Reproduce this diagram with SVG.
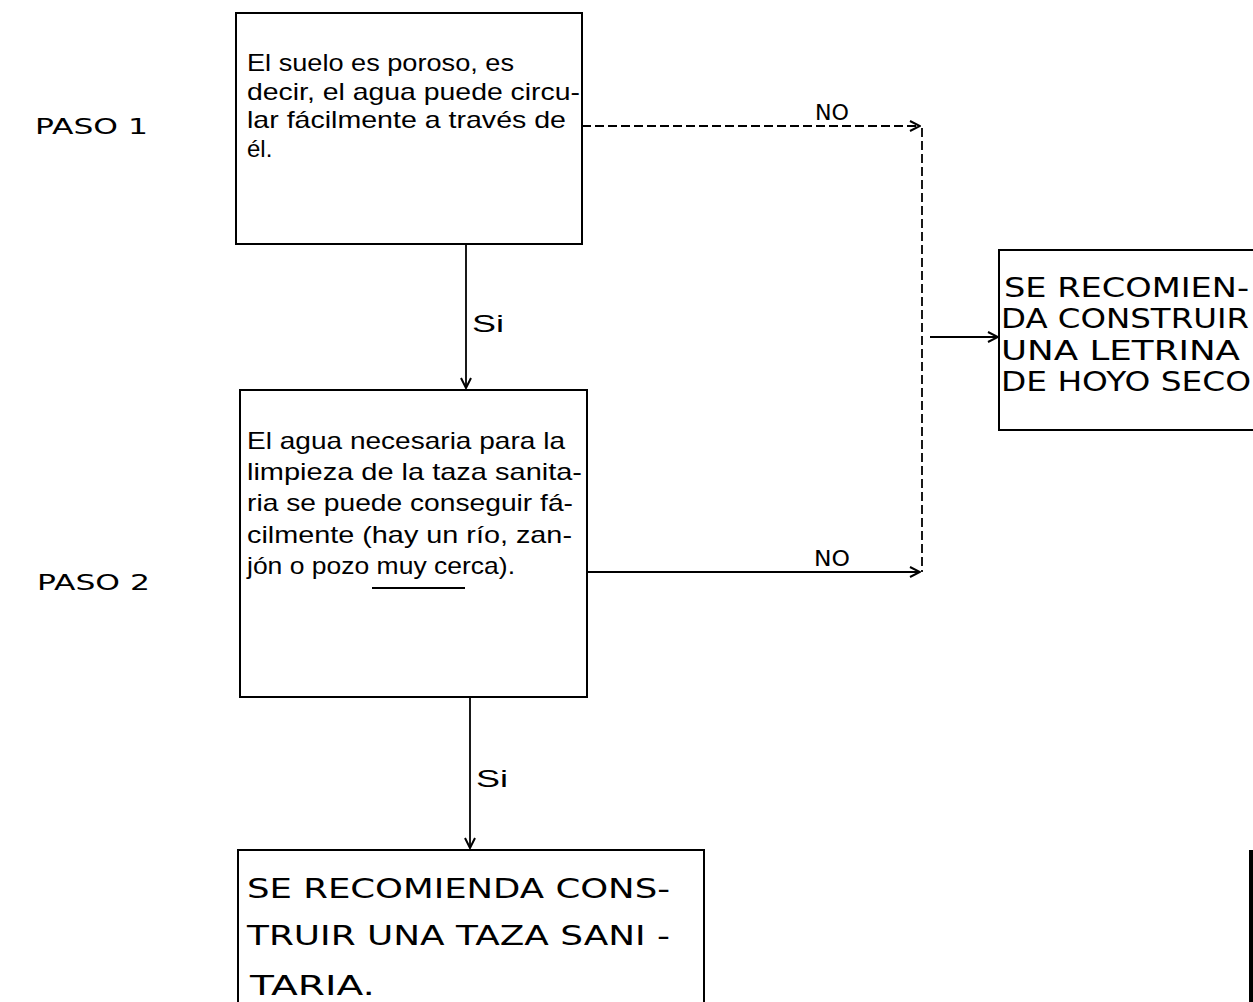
<svg xmlns="http://www.w3.org/2000/svg" width="1253" height="1002" viewBox="0 0 1253 1002">
<style>
.box{fill:none;stroke:#000;stroke-width:2}
.t{font-family:"Liberation Sans","DejaVu Sans",sans-serif;font-size:24px;fill:#000}
.u{font-family:"DejaVu Sans","Liberation Sans",sans-serif;font-size:26px}
.p{font-family:"DejaVu Sans","Liberation Sans",sans-serif;font-size:22px}
.c{fill:none;stroke:#000;stroke-width:1.8}
.d{stroke-dasharray:9 4}
</style>
<defs>
<marker id="ah" viewBox="0 0 12 12" refX="11" refY="6" markerWidth="12" markerHeight="12" markerUnits="userSpaceOnUse" orient="auto">
<polyline points="1,1 11,6 1,11" fill="none" stroke="#000" stroke-width="2"/>
</marker>
</defs>
<rect width="1253" height="1002" fill="#fff"/>
<text class="t p" x="35" y="134" textLength="113" lengthAdjust="spacingAndGlyphs">PASO 1</text>
<text class="t p" x="37" y="590" textLength="113" lengthAdjust="spacingAndGlyphs">PASO 2</text>
<g id="n1">
<rect class="box" x="236" y="13" width="346" height="231"/>
<text class="t" x="247" y="71" textLength="267" lengthAdjust="spacingAndGlyphs">El suelo es poroso, es</text>
<text class="t" x="247" y="100" textLength="333" lengthAdjust="spacingAndGlyphs">decir, el agua puede circu-</text>
<text class="t" x="247" y="128" textLength="319" lengthAdjust="spacingAndGlyphs">lar fácilmente a través de</text>
<text class="t" x="247" y="157">él.</text>
</g>
<g id="n2">
<rect class="box" x="240" y="390" width="347" height="307"/>
<text class="t" x="247" y="449" textLength="318" lengthAdjust="spacingAndGlyphs">El agua necesaria para la</text>
<text class="t" x="247" y="480" textLength="335" lengthAdjust="spacingAndGlyphs">limpieza de la taza sanita-</text>
<text class="t" x="247" y="511" textLength="326" lengthAdjust="spacingAndGlyphs">ria se puede conseguir fá-</text>
<text class="t" x="247" y="543" textLength="325" lengthAdjust="spacingAndGlyphs">cilmente (hay un río, zan-</text>
<text class="t" x="247" y="574" textLength="268" lengthAdjust="spacingAndGlyphs">jón o pozo muy cerca).</text>
<line class="c" x1="372" y1="588" x2="465" y2="588" stroke-width="1.5"/>
</g>
<g id="n3">
<path class="box" d="M238,1010 V850 H704 V1010"/>
<text class="t u" x="247" y="898" textLength="423" lengthAdjust="spacingAndGlyphs">SE RECOMIENDA CONS-</text>
<text class="t u" x="247" y="945" textLength="423" lengthAdjust="spacingAndGlyphs">TRUIR UNA TAZA SANI -</text>
<text class="t u" x="250" y="995" textLength="125" lengthAdjust="spacingAndGlyphs">TARIA.</text>
</g>
<g id="n4">
<rect class="box" x="999" y="250" width="270" height="180"/>
<text class="t u" x="1004" y="297" textLength="245" lengthAdjust="spacingAndGlyphs">SE RECOMIEN-</text>
<text class="t u" x="1001" y="328" textLength="248" lengthAdjust="spacingAndGlyphs">DA CONSTRUIR</text>
<text class="t u" x="1001" y="360" textLength="239" lengthAdjust="spacingAndGlyphs">UNA LETRINA</text>
<text class="t u" x="1001" y="391" textLength="250" lengthAdjust="spacingAndGlyphs">DE HOYO SECO</text>
</g>
<rect x="1249" y="850" width="4" height="152" fill="#000"/>
<g id="connectors">
<line class="c" x1="466" y1="244" x2="466" y2="388" marker-end="url(#ah)"/>
<text class="t" x="472" y="332" textLength="32" lengthAdjust="spacingAndGlyphs">Si</text>
<line class="c" x1="470" y1="697" x2="470" y2="848" marker-end="url(#ah)"/>
<text class="t" x="476" y="787" textLength="32" lengthAdjust="spacingAndGlyphs">Si</text>
<line class="c d" x1="582" y1="126" x2="920" y2="126" marker-end="url(#ah)"/>
<text class="t p" x="815" y="120" textLength="34" lengthAdjust="spacingAndGlyphs">NO</text>
<line class="c" x1="587" y1="572" x2="920" y2="572" marker-end="url(#ah)"/>
<text class="t p" x="814" y="566" textLength="36" lengthAdjust="spacingAndGlyphs">NO</text>
<line class="c d" x1="922" y1="128" x2="922" y2="572"/>
<line class="c" x1="930" y1="337" x2="998" y2="337" marker-end="url(#ah)"/>
</g>
</svg>
